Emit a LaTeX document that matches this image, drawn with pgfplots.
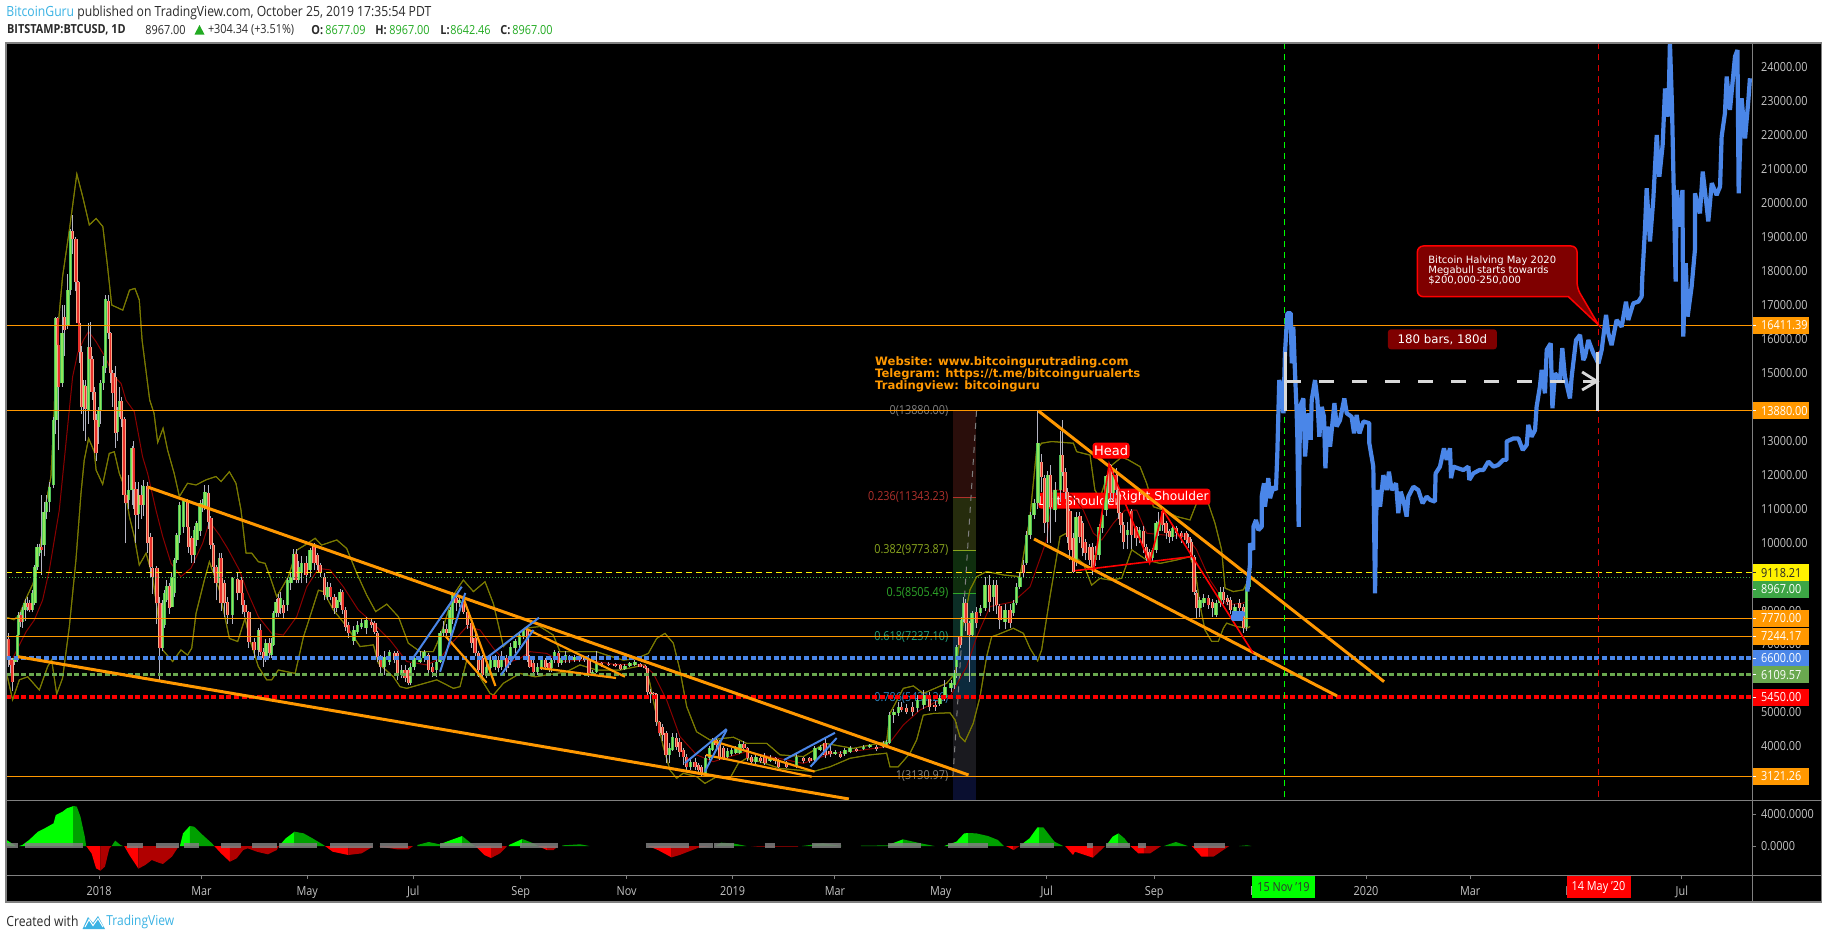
\documentclass[border=0pt]{standalone}
\usepackage{fontspec}
\usepackage{pgfplots}
\usepackage{pgfplotstable}
\pgfplotsset{compat=1.18}
\usepgfplotslibrary{fillbetween}
\setmainfont[FakeStretch=0.87]{Open Sans}
\newfontfamily\dv{DejaVu Sans}

\definecolor{orng}{HTML}{FF9800}
\definecolor{tickcol}{HTML}{C4C4C4}
\definecolor{framecol}{HTML}{808080}
\definecolor{tvblue}{HTML}{3BB3E4}
\definecolor{hdr}{HTML}{2B2B2B}
\definecolor{upg}{HTML}{22AB22}
\definecolor{lineblue}{HTML}{4A86E8}
\definecolor{linegreen}{HTML}{6AA84F}
\definecolor{bbfill}{HTML}{05051A}
\definecolor{bbline}{HTML}{7A7A00}
\definecolor{bbmid}{HTML}{8B0000}
\definecolor{upbody}{HTML}{4FC25A}
\definecolor{upcore}{HTML}{8FE85A}
\definecolor{dnbody}{HTML}{F4A98C}
\definecolor{dncore}{HTML}{E8302A}
\definecolor{wick}{HTML}{B4B4C2}
\definecolor{darkred}{HTML}{7F0000}
\definecolor{tagg}{HTML}{3DA545}
\definecolor{fiba}{HTML}{2A0E0B}
\definecolor{fibb}{HTML}{262C0D}
\definecolor{fibc}{HTML}{0F2E0E}
\definecolor{fibd}{HTML}{0C2E26}
\definecolor{fibe}{HTML}{0C2A3D}
\definecolor{fibf}{HTML}{1A1A1F}
\definecolor{fibg}{HTML}{0A0F30}
\definecolor{fibred}{HTML}{B0312C}
\definecolor{fibol}{HTML}{8AA61E}
\definecolor{fibgr}{HTML}{2FA82A}
\definecolor{fibte}{HTML}{1F9E7A}
\definecolor{fibbl}{HTML}{2E86C1}
\definecolor{grdark}{HTML}{00A000}
\definecolor{rddark}{HTML}{B00000}

% candles: d b t h l (days since 1 Jan 2018, body bottom, body top, high, low)
\pgfplotstableread{
d b t h l
-48.5 6500 6590 6650 6400
-47 6590 7280 7350 6500
-46.5 7280 7870 7950 7200
-44 7670 8020 8100 7500
-42.6 8020 8230 8350 7700
-38.2 8020 8510 8600 7950
-36.9 8210 9290 9350 8150
-35.7 9290 9880 9950 9200
-34.3 9690 9880 9950 9600
-31.7 9930 10910 11200 9600
-30.2 10910 11210 11400 10700
-28.6 11210 11650 11800 10900
-26.3 11700 13610 13700 11600
-24.8 13610 16610 16660 13200
-21.3 14690 16170 17000 14600
-17.9 16410 17440 17900 16300
-16.5 17440 19190 19250 17300
-8.9 14010 14650 14800 13300
-6.2 13910 15750 16460 13500
-0.2 13420 13910 14000 12900
1 13910 14690 14800 13500
2.5 14690 15190 15500 14500
3.6 15140 17170 17300 15000
10.7 13270 13910 14000 13000
11.9 13810 14180 14600 13700
17 11260 11550 12000 11000
19 11550 12780 12850 11100
22.6 10850 11410 11800 10400
25.7 11110 11670 11850 10800
36.3 6890 8170 8300 6800
37.6 7580 8510 8600 7500
39 8310 8710 8900 8250
42 8120 9000 9150 8100
43.6 8510 9490 9550 8400
44.9 9490 10230 10300 9400
46.3 10230 11110 11200 10000
48.6 10470 11260 11300 10300
55 9640 10370 10500 9400
56.4 10080 10570 10650 9900
58.2 10330 11160 11250 10200
59.7 11010 11160 11300 10900
61 11040 11480 11700 10950
69.3 8800 9540 9700 8300
77 7870 8950 9000 7600
92 6840 7430 7500 6550
96.2 6590 7040 7150 6500
99.5 6690 7040 7200 6600
100.5 6990 7920 8000 6950
102 7920 8260 8350 7800
104.7 8070 8360 8550 7900
108.5 8160 8900 8950 8000
110.5 8800 9000 9100 8600
112 9000 9670 9800 8900
115 8900 9290 9450 8800
116.8 9100 9390 9600 8800
121.6 9200 9790 9850 9000
131.6 8410 8700 8850 8300
137 8070 8310 8400 7950
138.9 8260 8560 8650 8150
146.9 7110 7430 7550 7000
148.9 7380 7580 7700 7300
151.4 7530 7640 7750 7450
153.9 7480 7720 7800 7300
164.2 6350 6620 6800 6100
167.3 6500 6790 6850 6400
174.4 6100 6250 6400 6000
179.6 5860 6350 6450 5800
181.5 6350 6590 6650 6250
185 6500 6590 6800 6450
187.3 6590 6790 6850 6500
194.6 6250 6500 6600 6050
196.5 6500 7330 7400 6450
198.4 7330 7450 7700 7250
202.3 7330 8020 8100 7250
203.8 7720 8490 8550 7600
207.5 8210 8310 8400 8100
223.4 6150 6350 6500 6000
225.7 6300 6540 6700 6150
228.2 6350 6590 6700 6250
232 6350 6550 6800 6250
237.2 6590 6940 7050 6400
239.7 6890 7110 7150 6750
242.2 6990 7280 7350 6900
244.5 7230 7430 7450 7150
252.5 6200 6330 6450 6100
255 6300 6530 6600 6250
260.8 6300 6550 6600 6200
262.5 6530 6790 6850 6450
266.6 6450 6590 6650 6400
268.7 6530 6690 6800 6450
273.7 6540 6620 6680 6500
284.2 6150 6200 6250 6100
286.7 6200 6470 6800 6150
303 6290 6370 6420 6260
305.9 6370 6450 6480 6340
308.8 6400 6500 6540 6380
328.6 3750 3940 4100 3500
330.5 3900 4290 4400 3850
340.9 3400 3550 3650 3300
349.5 3210 3650 3750 3130
351.6 3650 3940 4000 3600
353.6 3900 4190 4250 3850
362 3700 3850 3950 3650
364.5 3780 3900 3950 3720
367 3820 3940 4000 3780
369.3 3820 4070 4150 3780
378.5 3550 3700 3800 3480
386.6 3580 3650 3750 3530
402 3400 3700 3800 3350
412.5 3600 3940 4000 3550
415.4 3890 3990 4050 3850
424.1 3790 3840 3900 3750
429.8 3770 3890 3950 3720
432.7 3840 3940 4000 3800
440.4 3910 3990 4050 3880
444.2 3970 4040 4080 3950
451.9 3970 4090 4150 3950
453.8 4040 4140 4200 4000
455.4 4110 4920 5000 4080
458 4920 5020 5100 4700
460.5 4970 5170 5300 4900
471.5 5120 5370 5500 5000
475.3 5220 5510 5650 5100
484.5 5250 5420 5500 5200
487.4 5420 5760 5950 5350
490.9 5710 5860 5950 5600
492.8 5810 6150 6250 5700
494.1 6350 6940 7000 6000
497 7230 7720 7800 7100
498 7720 8210 8400 7650
503 7280 7920 8000 7250
508 7920 8070 8150 7850
510.5 8070 8750 9000 8000
515.3 8410 8750 8900 8000
522 7670 8020 8200 7450
526.8 7920 8210 8300 7850
528.7 8210 8700 8800 8150
530.6 8700 9000 9100 8650
534.5 9390 10230 10350 9350
536.4 10230 10810 10900 10100
538.7 10810 11160 11300 10700
541 11160 12930 13880 11000
546.4 10620 12000 12100 10000
550.8 10960 11550 11800 10600
554.1 11550 12580 13300 11200
562.9 9490 10770 10900 9300
574.2 9490 9640 9900 9300
576.2 9640 10470 10550 9500
578.3 10420 10820 10900 10300
580.2 10960 11950 12000 10800
584.4 11450 11990 12100 11300
592.5 10230 10370 10600 9800
599.4 10130 10370 10450 10000
607.1 9540 9790 9850 9450
609 9790 10570 10650 9700
610.7 10330 10620 10900 10200
618.6 10180 10420 10500 10050
634.3 8070 8310 8400 7800
636.6 8210 8360 8500 8100
643.6 7870 8220 8300 7800
645.9 8220 8560 8700 8100
654.5 7970 8120 8200 7750
661.2 7530 8700 8750 7400
662.8 8700 8950 8967 8640
}\upc
\pgfplotstableread{
d b t h l
-52 6590 7150 7350 6350
-51 6400 6590 6650 6060
-50 5910 6550 6600 5620
-45 7670 7870 7970 7520
-41.3 8120 8230 8400 7980
-39.8 8020 8210 8300 7950
-33 9790 9880 11400 9050
-23.8 15820 16610 16660 15000
-23.2 14600 15820 16000 12730
-19.8 16270 16640 17000 15500
-15.2 18940 19190 19650 18500
-13.3 17690 18940 19000 17400
-12.1 16460 17690 17700 16200
-11.4 15630 16460 16800 15300
-10.2 14010 15630 15800 13800
-7.9 13930 14630 14800 13000
-5.2 15410 15750 16500 15200
-4 14450 15410 15500 14200
-2.5 13610 14450 14600 13000
-1.7 12630 13610 13800 12400
5.5 16170 17130 17300 16000
6.7 14990 16170 16200 14700
8 14400 14990 15100 14000
9.4 13240 14890 15200 12800
13 13630 14180 14300 13400
14.4 11410 13630 13700 11200
15.5 11160 11410 11500 9980
20 11570 12780 13000 11000
21.3 10820 11570 11800 10000
24.2 11110 11410 11700 10700
28 9980 11670 11800 9700
29.9 9290 10160 10300 9000
30.9 9000 9250 9400 8500
33.4 8210 9250 9300 7600
35.1 6890 8210 8400 5960
40.5 8070 8710 8800 7900
51 10470 11260 11300 10200
51.6 9880 10470 10500 9700
53.5 9640 10130 10200 9400
63 10620 11450 11700 10400
64.5 9930 10720 10800 9800
65.9 9290 9930 10000 9100
67.4 8800 9290 9350 8300
70.3 8210 9540 9700 8000
72.2 8210 8800 8900 7800
74.1 7870 8260 8400 7600
79.7 8510 8920 9100 8300
81.8 8510 8900 9000 8400
82.8 8160 8510 8600 7900
84.1 7970 8160 8300 7800
86.3 7080 7970 8000 6900
89.3 6840 7080 7200 6600
93.2 6790 7430 7600 6700
94.7 6590 6790 6900 6350
98.2 6740 7040 7200 6600
103.3 7920 8360 8500 7800
106.2 7920 8160 8300 7750
113.5 8900 9670 9800 8800
119.3 9050 9390 9600 8800
123.9 9390 9900 9990 9200
125.8 9340 9640 9700 9200
127.4 9100 9340 9400 9000
129.9 8460 9000 9100 8300
133.5 8410 8700 8800 8300
135.4 8070 8410 8500 7900
140.4 8020 8560 8600 7900
142.1 7530 8020 8100 7400
143.9 7330 7580 7650 7200
157.1 7580 7670 7750 7500
159 7380 7640 7700 7300
160.4 6640 7330 7400 6500
162.3 6350 6640 6700 6100
170.2 6550 6760 6800 6450
171.9 6100 6740 6800 5950
176.3 6000 6250 6400 5900
178.2 5860 6250 6300 5800
189.8 6250 6690 6750 6150
192.3 6200 6350 6450 6050
200.3 7330 7450 7600 7200
205.7 8210 8360 8500 8000
209.9 7970 8260 8350 7900
212.2 7580 7970 8000 7450
214.7 7040 7620 7700 6900
216.7 6740 7180 7300 6650
218.6 6250 6740 6800 6050
220.9 6100 6590 6700 5950
230.1 6300 6540 6650 6200
235 6300 6590 6700 6200
246.8 6660 7430 7450 6500
248.3 6350 6660 6700 6300
250.2 6200 6450 6550 6100
257.3 6350 6530 6600 6250
259.3 6270 6450 6500 6200
264.6 6450 6760 6800 6350
271 6530 6660 6700 6450
277.1 6560 6620 6650 6500
280 6540 6620 6650 6500
282.3 6150 6560 6700 6050
289.6 6400 6450 6500 6350
293.4 6400 6430 6480 6370
297.3 6380 6420 6450 6350
300.5 6270 6400 6430 6240
311.7 6350 6430 6450 6330
314.6 6300 6370 6400 6280
316.1 5610 6300 6320 5500
317.8 5540 5610 5700 5270
319.7 5540 5560 5600 5400
321.3 4730 5540 5560 4600
322.8 4380 4730 4750 4300
324.7 4340 4580 4650 4150
326.7 3750 4380 4450 3500
332.8 3990 4240 4400 3900
334.7 3840 4140 4250 3700
336.6 3700 3900 3950 3450
338.6 3400 3700 3780 3250
343.4 3400 3550 3650 3300
345.3 3300 3450 3500 3220
347.2 3210 3400 3450 3130
355.5 4040 4190 4300 3950
357.4 3700 4090 4200 3600
359.7 3650 3940 4000 3600
371.6 3940 4070 4150 3850
373.5 3650 3940 3980 3570
376 3550 3680 3750 3450
381.2 3580 3650 3750 3500
383.7 3520 3700 3800 3450
389.5 3580 3650 3700 3480
391.4 3400 3580 3640 3350
396.2 3400 3500 3560 3350
405.8 3580 3650 3700 3500
409.6 3580 3650 3700 3520
418.3 3750 4110 4250 3650
421.2 3770 3870 4000 3700
427.3 3700 3790 3850 3650
436.5 3870 3910 3960 3830
448 3910 3990 4050 3870
462.5 5070 5170 5300 5000
465.3 5020 5120 5250 4950
468.8 5020 5170 5300 4900
478.4 5170 5460 5600 5050
481.7 5170 5220 5350 5050
496.1 6990 7230 7500 6900
499.5 7620 8210 8350 7400
501.3 7280 7620 7700 5900
505.7 7620 7970 8100 7500
513 8260 8750 9050 7950
517.2 8170 8750 8900 7900
519.1 7720 8130 8200 7450
524.9 7640 8020 8200 7500
532.6 9100 9340 9500 8950
543.1 11945 12390 12600 11500
544.7 10570 11900 12000 10300
548.3 11060 12000 12300 10000
555.2 12090 12580 13610 11950
556.6 11500 12090 12200 11300
557.9 10180 11500 11600 10000
559.4 9790 10920 11000 9500
561.4 9150 10130 10300 9120
565.2 10180 10790 10900 10000
566.7 9830 10570 10650 9600
568.1 9690 10030 10100 9500
570.6 9490 9880 9950 9350
572.3 9200 9880 10000 9050
582.5 11450 12290 12320 11200
586 11550 11990 12200 11400
587.3 10860 11550 11600 10700
588.8 10520 10860 10900 10300
590.2 10030 10520 10600 9800
595 10230 10920 11000 9800
597.5 10130 10470 10500 9900
601.7 9880 10350 10500 9700
603.6 9540 9880 9950 9450
605.2 9490 9740 9800 9400
612.6 10520 10920 11000 10350
614.8 10280 10570 10650 10100
616.7 10180 10330 10400 10000
620.9 10280 10420 10500 10100
623.8 10180 10280 10350 10000
626.3 10080 10280 10350 9950
628 9980 10180 10250 9850
629.5 9590 10030 10100 9500
630.9 8560 9590 9650 8450
632.4 8070 8510 8600 7750
639.1 8170 8360 8450 8050
641.6 8070 8260 8350 7800
647.8 8310 8560 8700 8200
650.1 8260 8360 8450 8150
652 8020 8310 8400 7900
657 8070 8230 8350 7950
659.3 7480 8120 8200 7350
}\dnc

% upper band
\pgfplotstableread{
d v
-53 7800
-49 7730
-46 7870
-42 8360
-38 8800
-36 9200
-34 9880
-30.6 11160
-27.7 11950
-25.8 13910
-24.8 15680
-21 17840
-17.1 19210
-15.8 19700
-12.8 20860
-9.4 20190
-5.6 19360
-1.7 19550
2.2 19310
4.7 18230
7.3 17000
13.7 16850
17.6 17440
20.7 17490
23.2 17150
24.8 15970
29.2 14200
31.7 13810
33.8 12950
36.9 13370
39.5 12730
43.3 12040
46.3 11360
51 11750
55.9 11700
61.6 11850
67.4 11950
70.3 11800
75.1 12090
78.9 11750
81.8 10960
84.7 9690
88 9690
91.8 9440
95.7 9390
98.5 9000
102.4 8410
109.1 9000
113.9 9780
118.7 9930
124.5 10130
128.3 9930
137 10080
142.7 9830
148.5 9100
154.2 8460
159.4 7970
165.8 8190
172.5 7820
178.2 7040
185 6790
192.6 6790
196.5 7230
204.2 8460
209.9 8900
215.7 8560
222.4 8850
227.2 8210
233 6940
238.7 7230
245.4 7480
254 7530
261.7 7280
265.6 6790
277.1 6790
286.7 6790
292.5 6690
302.1 6540
309.8 6590
316.5 6740
321.3 7180
326.1 7330
330.9 7040
334.7 6250
338.6 5170
344.3 4430
352 4190
365.5 4270
373.1 4090
384.7 4090
392.4 3750
405.8 3700
418.3 4090
434.6 3940
453.8 4140
455.7 4970
463.4 5710
469.2 5780
474.9 5560
488.4 5860
493.2 6150
496 7130
501.8 8610
505.7 9000
511.4 9150
521 9050
530.6 9000
536.4 10770
540.2 12730
543.1 12930
548.9 12980
561.4 12930
563.3 12680
571 12580
573.8 11550
576.7 11300
582.5 12240
589.2 12520
593 12440
599.8 12240
603.6 11750
607.5 11060
613.2 10960
620.9 10770
628.6 10670
633.4 11300
638.2 11300
643 10570
646.8 9790
648.8 8660
653.5 8560
659.3 8610
663.2 9000
}\bbu

% lower band
\pgfplotstableread{
d v
-53 6100
-49.8 5370
-45.9 5960
-41.1 6050
-34.4 5660
-29.6 6350
-27.3 6550
-24.4 5540
-21 6010
-17.1 7530
-13.3 9490
-10.4 11450
-8.5 12440
-6 13070
-2.7 12680
-1.7 12140
2.1 11720
5.9 12630
8.8 12680
11.7 12040
14.6 11650
17.5 10770
20.3 10180
23.2 9340
27.1 9690
30.9 9000
36.7 6840
42.4 6500
47.2 6840
51 6690
53.4 6890
55.9 7920
60.7 8900
63.6 9440
69.3 8610
75.1 7180
79.9 7090
84.1 7770
87 7130
91.8 6350
96.6 5960
99.5 5960
103.3 6250
113 6150
117.8 7230
120.6 7670
126.4 8600
129.3 8560
135 8020
142.7 7530
150.4 6940
158.1 6990
160.9 6450
169.6 6050
173.4 5760
177.3 5710
194.6 5960
204.2 5710
208 5760
211.9 6540
215.7 6350
225.3 5560
227.2 5510
233 5860
242.5 6150
251.2 6050
263.7 6150
269.4 6200
277.1 6400
286.7 6250
300.2 6250
309.8 6350
314.6 6400
317.4 5860
321.3 4880
325.1 3990
329 3300
332.8 3060
336.6 3210
344.3 3110
349.1 2910
355.9 3110
363.5 3060
368.3 3500
373.1 3650
380.8 3550
392.3 3350
411.6 3260
421.2 3400
432.7 3650
444.2 3750
453.8 3800
455.7 3400
460.5 3400
467.3 3800
471.1 4190
474.9 4920
480.7 4970
490.3 4990
493.2 4780
496 4290
498.9 4140
503.7 4680
507.6 5460
511.4 6640
514.3 7230
517.2 7280
526.8 7480
532.6 7330
536.4 6890
540.8 6520
543.1 6840
547.9 8410
553.7 10180
557.5 10280
562.3 9590
567.1 9390
571.9 8750
576.7 8950
582.5 8900
589.2 8950
595 9790
603.6 9490
611.3 9390
620.9 9490
628.6 9590
631.5 9200
634.3 8170
637.2 7430
641.1 7090
644.9 7090
647.8 7480
649.7 7630
655.5 7530
661.2 7480
663.2 7530
}\bbl

% middle band
\pgfplotstableread{
d v
-49.8 6590
-42 7380
-37.3 7720
-32.5 8310
-28.6 9200
-22.9 10960
-18.1 13420
-15.2 14890
-12.3 15580
-9 15970
-6 16220
-1.7 15920
4 15430
7.9 14940
12.7 14690
15.5 14200
20.3 13860
25.1 12530
28 12040
32.8 10960
36.7 10180
41.5 9390
47.2 9000
53 9250
59.7 9980
63.6 10620
69.3 10230
74.1 9830
80.8 9200
85.1 8600
91.8 7820
99.5 7330
106.2 7280
113.9 7820
119.7 8700
126.4 9240
133.1 9200
140.8 8700
149.4 8020
158.1 7620
167.7 7130
177.3 6500
188.8 6400
196.5 6590
203.2 7040
211.9 7530
219.5 7430
227.2 6890
234.9 6450
242.5 6590
248.3 6790
257.9 6740
265.6 6500
280.9 6550
296.3 6420
313.6 6400
319.4 6150
327 5370
334.7 4290
344.3 3750
353.9 3550
363.5 3700
373.1 3850
386.6 3700
405.8 3500
421.2 3780
436.5 3870
453.8 3990
463.4 4630
473 5070
482.6 5320
490.3 5460
499.9 6350
505.7 7230
513.4 8120
526.8 8260
536.4 8700
546 10080
549.8 11550
555.6 11550
560.4 11400
567.1 10960
572.9 10280
577.7 10080
584.4 10570
591.1 10960
597.9 10960
603.6 10280
613.2 10230
626.7 10180
632.4 9790
640.1 8900
649.7 8170
659.3 8220
662.2 8310
}\bbm

% projected path
\pgfplotstableread{
d v
661.6 8560
663.2 9390
663.2 9980
665.1 9790
665.1 10470
666.6 10670
668 10370
669.9 10470
669.9 11360
671.2 11750
671.8 11060
673.7 11900
674.7 11310
676.6 11650
678.1 11550
678.9 12630
680 14790
681.4 14500
682.4 13810
683.3 15580
684.7 16760
686.6 16760
687.2 15280
688.1 16360
689.1 14990
690 13910
690.4 13220
691.2 10470
692 14010
693.9 14250
694.9 12540
696.8 13810
698.1 13030
698.7 14200
700.6 14790
702 14200
703.1 13120
704.5 14000
705.8 13710
706.6 12190
707.7 13420
709.3 12830
711.8 14110
713.1 13420
715 13610
717.5 14250
718.9 13810
721.7 13710
723.1 13220
724.6 13760
726.2 13220
728.5 13570
731.9 13520
731.9 12930
734.2 12240
735.2 8510
735.8 10770
736.5 11550
738.1 11060
740 11990
741.9 11550
743.2 12090
744.8 11550
747.3 11750
748.6 10870
750 11500
751.5 11260
753.4 10770
754.4 11360
757.3 11650
760.1 11550
762.6 11160
765 11360
766.9 11260
769.7 11210
770.1 12040
772.6 12240
774.9 12780
776.5 12440
778.4 12780
779 11900
780.3 12240
783.2 12190
786.1 12140
789 12240
789.5 11850
791.8 12040
795.3 12140
797.6 12140
800.5 12390
803.4 12240
806.2 12290
809.1 12440
811 12440
811 12980
814.9 13070
817.8 13070
820.3 12730
822.6 12880
823.5 13470
825.4 13120
827.4 13320
828.3 14010
830.2 14600
831.2 15090
833.1 14400
834.1 15680
836.4 15870
837.4 13960
838.9 14990
841.8 14790
843.1 15730
844.6 14890
847.5 14250
848.5 14890
851 15970
853.3 16120
855.2 15380
856.2 15480
858.1 15970
861 15580
863.9 15280
865.8 15680
868.3 16710
869.6 16170
871.5 15820
874.4 16560
877.3 16360
879.8 17100
881.1 16560
884 17050
886.9 17100
888.8 17250
889.2 17840
890.7 19210
891.7 20440
893.6 18870
895.5 20090
897.5 22010
899 20780
900.9 21710
902.3 23380
904.2 22550
905.1 24750
906.3 22840
907.1 20880
908.4 17690
909 20390
910.9 19310
912.3 20390
912.8 16070
914.2 18230
915.3 16660
917.6 17540
919.5 18620
919.5 20290
922.4 19700
924 20930
926.3 19900
927.2 19460
929.2 20590
932 20240
934 20490
934.9 21960
936.8 22650
937.8 23730
939.7 22750
942.6 24320
944 24510
944.7 20290
946.4 23090
948.4 21910
950.3 23040
951.2 23680
}\proj

\newcommand{\tickfont}{\fontsize{6.25}{7}\selectfont}
\newcommand{\ptag}[4]{%
  \node[fill=#2,anchor=west,inner sep=0pt,minimum width=28.5pt,minimum height=8.5pt] (t) at (axis cs:952.4,#1) {};
  \node[text=#3,anchor=west,inner sep=0pt,font=\tickfont] at ([xshift=4.35pt]t.west) {#4};
  \draw[#3,line width=.5pt] (t.west) -- ([xshift=2pt]t.west);
}
\newcommand{\fiblab}[3]{\node[text=#2,anchor=east,inner sep=0pt,font=\fontsize{6.2}{7}\selectfont] at (axis cs:489.5,#1) {#3};}
\newcommand{\hlev}[2]{\addplot[#1] coordinates {(-53.6,#2) (952.4,#2)};}
\newcommand{\trend}[5]{\addplot[#1] coordinates {(#2,#3) (#4,#5)};}

\pgfplotsset{pane/.style={scale only axis,width=873pt,xmin=-53.6,xmax=952.4,
  axis line style={draw=none},tick align=outside,major tick length=2pt,
  tick style={draw=framecol,line width=.5pt},clip mode=individual,scaled ticks=false}}

\begin{document}
\begin{tikzpicture}[x=0.5pt,y=-0.5pt]
\fill[white] (0,0) rectangle (1828,939);
\fill[black] (6,43) rectangle (1821.5,902);

\node[anchor=west,inner sep=0pt,font=\fontsize{7}{8}\selectfont,text=hdr] at (6,13) {\textcolor{tvblue}{BitcoinGuru} published on TradingView.com, October 25, 2019 17:35:54 PDT};
\node[anchor=west,inner sep=0pt,font=\fontsize{6.25}{7}\selectfont\bfseries,text=hdr] at (6.7,30) {BITSTAMP:BTCUSD, 1D};
\node[anchor=west,inner sep=0pt,font=\tickfont,text=hdr] at (145,30) {8967.00};
\fill[upg] (194.5,34.5) -- (199.5,25) -- (204.5,34.5) -- cycle;
\node[anchor=west,inner sep=0pt,font=\tickfont,text=hdr] at (207.6,30) {+304.34 (+3.51\%)};
\node[anchor=west,inner sep=0pt,font=\fontsize{6.25}{7}\selectfont\bfseries,text=hdr] at (311,30) {O:};
\node[anchor=west,inner sep=0pt,font=\tickfont,text=upg] at (325,30) {8677.09};
\node[anchor=west,inner sep=0pt,font=\fontsize{6.25}{7}\selectfont\bfseries,text=hdr] at (375,30) {H:};
\node[anchor=west,inner sep=0pt,font=\tickfont,text=upg] at (389,30) {8967.00};
\node[anchor=west,inner sep=0pt,font=\fontsize{6.25}{7}\selectfont\bfseries,text=hdr] at (440,30) {L:};
\node[anchor=west,inner sep=0pt,font=\tickfont,text=upg] at (450,30) {8642.46};
\node[anchor=west,inner sep=0pt,font=\fontsize{6.25}{7}\selectfont\bfseries,text=hdr] at (500,30) {C:};
\node[anchor=west,inner sep=0pt,font=\tickfont,text=upg] at (512,30) {8967.00};

\begin{axis}[pane,at={(3pt,-400.35pt)},anchor=south west,height=378.85pt,ymin=2400,ymax=24718,
  xtick=\empty,ytick={4000,5000,7000,8000,10000,11000,12000,13000,15000,16000,17000,18000,19000,20000,21000,22000,23000,24000},ytick pos=right,yticklabel pos=right,
  yticklabel style={font=\tickfont,text=tickcol,inner sep=0pt,xshift=2.35pt,
    /pgf/number format/fixed,/pgf/number format/fixed zerofill,/pgf/number format/precision=2,
    /pgf/number format/1000 sep={},/pgf/number format/assume math mode=true}]

% fibonacci column
\addplot[fill=fiba,draw=none] coordinates {(491.8,13880)(505.5,13880)(505.5,11343.23)(491.8,11343.23)};
\addplot[fill=fibb,draw=none] coordinates {(491.8,11343.23)(505.5,11343.23)(505.5,9773.87)(491.8,9773.87)};
\addplot[fill=fibc,draw=none] coordinates {(491.8,9773.87)(505.5,9773.87)(505.5,8505.49)(491.8,8505.49)};
\addplot[fill=fibd,draw=none] coordinates {(491.8,8505.49)(505.5,8505.49)(505.5,7237.10)(491.8,7237.10)};
\addplot[fill=fibe,draw=none] coordinates {(491.8,7237.10)(505.5,7237.10)(505.5,5431.26)(491.8,5431.26)};
\addplot[fill=fibf,draw=none] coordinates {(491.8,5431.26)(505.5,5431.26)(505.5,3130.97)(491.8,3130.97)};
\addplot[fill=fibg,draw=none] coordinates {(491.8,3130.97)(505.5,3130.97)(505.5,2400)(491.8,2400)};
\addplot[fibred,line width=.5pt] coordinates {(491.8,11343.23)(505.5,11343.23)};
\addplot[fibol,line width=.5pt] coordinates {(491.8,9773.87)(505.5,9773.87)};
\addplot[fibgr,line width=.5pt] coordinates {(491.8,8505.49)(505.5,8505.49)};
\addplot[gray,line width=.5pt,dash pattern=on 3pt off 3pt] coordinates {(505.6,13880)(492,3131)};
\fiblab{13880}{gray}{0(13880.00)}
\fiblab{11343.23}{fibred}{0.236(11343.23)}
\fiblab{9773.87}{fibol}{0.382(9773.87)}
\fiblab{8505.49}{fibgr}{0.5(8505.49)}
\fiblab{7237.10}{fibte}{0.618(7237.10)}
\fiblab{5431.26}{fibbl}{0.786(5431.26)}
\fiblab{3130.97}{gray}{1(3130.97)}

% bollinger bands
\addplot[name path=upb,bbline,line width=.5pt] table[x=d,y=v] {\bbu};
\addplot[name path=lob,bbline,line width=.5pt] table[x=d,y=v] {\bbl};
\addplot[bbfill,draw=none] fill between[of=upb and lob];
\addplot[bbline,line width=.5pt] table[x=d,y=v] {\bbu};
\addplot[bbline,line width=.5pt] table[x=d,y=v] {\bbl};

\node[fill=red,rounded corners=1.5pt,text=white,inner sep=0pt,minimum width=39.4pt,minimum height=8pt,font=\dv\fontsize{6.1}{7}\selectfont] at (axis cs:564.6,11237) {Left Shoulder};
\node[fill=red,rounded corners=1.5pt,text=white,inner sep=0pt,minimum width=47pt,minimum height=8pt,font=\dv\fontsize{6.1}{7}\selectfont] at (axis cs:613.3,11355) {Right Shoulder};

\addplot[bbmid,line width=.5pt] table[x=d,y=v] {\bbm};

% candles
\addplot[draw=none,error bars/.cd,y dir=plus,y explicit,error mark=none,error bar style={draw=wick,line width=.5pt}] table[x=d,y=l,y error plus expr=\thisrow{h}-\thisrow{l}] {\upc};
\addplot[draw=none,error bars/.cd,y dir=plus,y explicit,error mark=none,error bar style={draw=wick,line width=.5pt}] table[x=d,y=l,y error plus expr=\thisrow{h}-\thisrow{l}] {\dnc};
\addplot[draw=none,error bars/.cd,y dir=plus,y explicit,error mark=none,error bar style={draw=upbody,line width=1.7pt}] table[x=d,y=b,y error plus expr=\thisrow{t}-\thisrow{b}] {\upc};
\addplot[draw=none,error bars/.cd,y dir=plus,y explicit,error mark=none,error bar style={draw=upcore,line width=.7pt}] table[x=d,y=b,y error plus expr=\thisrow{t}-\thisrow{b}] {\upc};
\addplot[draw=none,error bars/.cd,y dir=plus,y explicit,error mark=none,error bar style={draw=dnbody,line width=1.7pt}] table[x=d,y=b,y error plus expr=\thisrow{t}-\thisrow{b}] {\dnc};
\addplot[draw=none,error bars/.cd,y dir=plus,y explicit,error mark=none,error bar style={draw=dncore,line width=.8pt}] table[x=d,y=b,y error plus expr=\thisrow{t}-\thisrow{b}] {\dnc};

% horizontal levels
\hlev{orng,line width=.5pt}{16411.39}
\hlev{orng,line width=.5pt}{13880}
\hlev{orng,line width=.5pt}{7770}
\hlev{orng,line width=.5pt}{7244.17}
\hlev{orng,line width=.5pt}{3121.26}
\hlev{yellow,line width=.55pt,dash pattern=on 3pt off 2pt}{9118.21}
\hlev{tagg,line width=.4pt,dash pattern=on .6pt off .9pt}{8967}
\hlev{lineblue,line width=1.7pt,dash pattern=on 2.5pt off 1.3pt}{6600}
\hlev{linegreen,line width=1.7pt,dash pattern=on 2.5pt off 1.3pt}{6109.57}
\hlev{red,line width=1.7pt,dash pattern=on 2.5pt off 1.3pt}{5450}

% vertical date markers
\addplot[green,line width=.5pt,dash pattern=on 3pt off 2.5pt] coordinates {(683,2500)(683,24718)};
\addplot[red!85!black,line width=.5pt,dash pattern=on 3pt off 2.5pt] coordinates {(864,2500)(864,24718)};

% trend lines
\trend{orng,line width=1.5pt}{28}{11640}{501}{3158}
\trend{orng,line width=1.5pt}{-46.7}{6642}{432}{2451}
\trend{orng,line width=1.5pt}{541.3}{13879}{740.4}{5906}
\trend{orng,line width=1.5pt}{538.7}{10109}{713.3}{5485}
\trend{orng,line width=1.1pt}{199.6}{7252}{223.3}{5876}
\trend{orng,line width=1.1pt}{210.3}{8312}{228.4}{5779}
\trend{orng,line width=1.1pt}{245.2}{7488}{303}{6053}
\trend{orng,line width=1.1pt}{254}{6310}{297.9}{6015}
\trend{orng,line width=1.1pt}{353.2}{4168}{412.3}{3256}
\trend{orng,line width=1.1pt}{349.7}{3747}{410.6}{3107}
\trend{lineblue,line width=1pt}{181}{6605}{209}{8704}
\trend{lineblue,line width=1pt}{196.5}{6200}{211}{8519}
\trend{lineblue,line width=1pt}{223.3}{6605}{253.5}{7791}
\trend{lineblue,line width=1pt}{231.6}{6103}{250.3}{7428}
\trend{lineblue,line width=1pt}{337.6}{3510}{361.6}{4513}
\trend{lineblue,line width=1pt}{349}{3255}{361.6}{4484}
\trend{lineblue,line width=1pt}{394.7}{3600}{424}{4400}
\trend{lineblue,line width=1pt}{409.9}{3402}{425}{4246}
\addplot[red,line width=.8pt] coordinates {(562.3,9175)(629.2,9588)};
\addplot[red,line width=.8pt] coordinates {(573,9175)(582,12318)(605.3,9402)(613,10963)(665,6745)};

% projected path
\addplot[lineblue,line width=1.75pt,line join=bevel] coordinates {(653,7950)(659,7950)(659,7850)(653,7850)(653,7750)(659,7750)};
\addplot[lineblue,line width=2.1pt,line join=bevel] table[x=d,y=v] {\proj};

% 180 bar ruler
\addplot[white!85!black,line width=1.3pt] coordinates {(683.7,13880)(683.7,15625)};
\addplot[white!85!black,line width=1.3pt] coordinates {(863.3,13880)(863.3,15625)};
\addplot[white!85!black,line width=1.6pt,dash pattern=on 7.25pt off 9.25pt] coordinates {(684,14754)(863,14754)};
\addplot[white!85!black,line width=1.4pt] coordinates {(854.5,15028)(863,14754)(854.5,14498)};
\end{axis}

% oscillator pane
\begin{axis}[pane,at={(3pt,-437.5pt)},anchor=south west,height=37.15pt,ymin=-3625,ymax=5662,
  ytick={0,4000},ytick pos=right,yticklabel pos=right,
  yticklabel style={font=\tickfont,text=tickcol,inner sep=0pt,xshift=2.35pt,
    /pgf/number format/fixed,/pgf/number format/fixed zerofill,/pgf/number format/precision=4,
    /pgf/number format/1000 sep={},/pgf/number format/assume math mode=true},
  xtick={0,59,120,181,243,304,365,424,485,546,608,669,730,790,851,912},
  xticklabels={2018,Mar,May,Jul,Sep,Nov,2019,Mar,May,Jul,Sep,Nov,2020,Mar,May,Jul},
  xtick pos=bottom,xticklabel pos=bottom,
  xticklabel style={font=\tickfont,text=tickcol,inner sep=0pt,yshift=-3.5pt}]
\addplot[fill=green,draw=none] coordinates {(-53.2,750)(-48,0)(-53.2,0)};
\addplot[fill=green,draw=none] coordinates {(-46,0)(-44.2,125)(-40.3,750)(-35.2,1790)(-31.3,2210)(-26.2,2830)(-24.9,3880)(-21,4290)(-18.5,4710)(-14.6,5000)(-14.6,0)};
\addplot[fill=grdark,draw=none] coordinates {(-14.6,0)(-14.6,5000)(-12.8,4920)(-10.7,3670)(-8.2,1170)(-7.4,0)};
\addplot[fill=red,draw=none] coordinates {(-7.4,0)(-4.3,-920)(-1.7,-2790)(0.8,-3080)(0.8,0)};
\addplot[fill=rddark,draw=none] coordinates {(0.8,0)(0.8,-3080)(3.4,-2580)(6,-290)(7.3,0)};
\addplot[fill=grdark,draw=none] coordinates {(7.3,0)(9.3,670)(12.4,125)(13.7,0)};
\addplot[fill=red,draw=none] coordinates {(14.5,0)(17.5,-1125)(22.7,-2830)(22.7,0)};
\addplot[fill=rddark,draw=none] coordinates {(22.7,0)(22.7,-2830)(26.6,-2375)(30.4,-1750)(34.3,-2080)(36.8,-2250)(42,-1330)(45.8,-80)(45.8,0)};
\addplot[fill=green,draw=none] coordinates {(46.6,0)(48.4,1580)(52.3,2500)(52.3,0)};
\addplot[fill=grdark,draw=none] coordinates {(52.3,0)(52.3,2500)(54.8,2420)(58.7,1580)(65.1,330)(66.4,0)};
\addplot[fill=red,draw=none] coordinates {(66.4,0)(70.3,-920)(75.4,-1960)(75.4,0)};
\addplot[fill=rddark,draw=none] coordinates {(75.4,0)(75.4,-1960)(79.3,-1540)(83.1,-500)(85.7,-290)(90.9,-710)(97.3,-1040)(102.4,-500)(103.7,0)};
\addplot[fill=green,draw=none] coordinates {(103.7,0)(107.6,960)(112.7,1790)(112.7,0)};
\addplot[fill=grdark,draw=none] coordinates {(112.7,0)(112.7,1790)(117.9,1580)(123,960)(129.4,125)(130.2,0)};
\addplot[fill=red,draw=none] coordinates {(130.2,0)(134.6,-710)(143.6,-1125)(143.6,0)};
\addplot[fill=rddark,draw=none] coordinates {(143.6,0)(143.6,-1125)(151.3,-920)(157.7,-80)(157.7,0)};
\addplot[fill=rddark,draw=none] coordinates {(161.6,0)(161.6,-80)(171.9,-420)(178.3,-420)(180.9,0)};
\addplot[fill=grdark,draw=none] coordinates {(183.4,0)(183.4,125)(189.9,500)(196.3,210)(196.3,0)};
\addplot[fill=green,draw=none] coordinates {(196.3,0)(196.3,210)(200.2,540)(209.2,1250)(209.2,0)};
\addplot[fill=grdark,draw=none] coordinates {(209.2,0)(209.2,1250)(215.6,125)(216.9,0)};
\addplot[fill=red,draw=none] coordinates {(216.9,0)(222,-1125)(225.9,-1500)(225.9,0)};
\addplot[fill=rddark,draw=none] coordinates {(225.9,0)(225.9,-1500)(231,-920)(234.9,-80)(234.9,0)};
\addplot[fill=green,draw=none] coordinates {(236.2,0)(236.2,125)(243.9,875)(243.9,0)};
\addplot[fill=grdark,draw=none] coordinates {(243.9,0)(243.9,875)(250.3,330)(252.9,0)};
\addplot[fill=red,draw=none] coordinates {(252.9,0)(258,-500)(258,0)};
\addplot[fill=rddark,draw=none] coordinates {(258,0)(258,-500)(261.9,-500)(264.5,0)};
\addplot[fill=grdark,draw=none] coordinates {(267,0)(267,80)(277.3,210)(282.5,0)};
\addplot[fill=red,draw=none] coordinates {(316.3,0)(322,-500)(329.9,-1420)(329.9,0)};
\addplot[fill=rddark,draw=none] coordinates {(329.9,0)(329.9,-1420)(334.5,-1125)(345.9,-170)(353.9,0)};
\addplot[fill=grdark,draw=none] coordinates {(355,0)(358.4,416)(366,300)(373,0)};
\addplot[fill=rddark,draw=none] coordinates {(375.5,0)(380,-80)(402.8,-80)(402.8,0)};
\addplot[fill=grdark,draw=none] coordinates {(405,0)(417,333)(428,0)};
\addplot[fill=grdark,draw=none] coordinates {(439,0)(439,40)(454.6,80)(454.6,0)};
\addplot[fill=green,draw=none] coordinates {(454.6,0)(454.6,125)(463.2,830)(463.2,0)};
\addplot[fill=grdark,draw=none] coordinates {(463.2,0)(463.2,830)(473.5,330)(481.4,0)};
\addplot[fill=green,draw=none] coordinates {(487,0)(494,540)(498.5,1580)(501,1620)(501,0)};
\addplot[fill=grdark,draw=none] coordinates {(501,0)(501,1620)(505.4,1580)(512.2,1250)(517.9,750)(521.3,0)};
\addplot[fill=red,draw=none] coordinates {(522.5,0)(527,-500)(527,0)};
\addplot[fill=rddark,draw=none] coordinates {(527,0)(527,-500)(530.4,0)};
\addplot[fill=green,draw=none] coordinates {(530.4,0)(536.1,960)(540.7,2330)(542,2330)(542,0)};
\addplot[fill=grdark,draw=none] coordinates {(542,0)(542,2330)(544.1,2330)(550.5,540)(555.5,0)};
\addplot[fill=red,draw=none] coordinates {(556.6,0)(561.2,-1125)(562.3,-710)(572.6,-1460)(572.6,0)};
\addplot[fill=rddark,draw=none] coordinates {(572.6,0)(572.6,-1460)(579.4,-80)(579.4,0)};
\addplot[fill=green,draw=none] coordinates {(580.1,0)(584,1170)(587.4,1580)(587.4,0)};
\addplot[fill=grdark,draw=none] coordinates {(587.4,0)(587.4,1580)(590.8,960)(594.2,0)};
\addplot[fill=red,draw=none] coordinates {(594.2,0)(598.8,-920)(602,-920)(602,0)};
\addplot[fill=rddark,draw=none] coordinates {(602,0)(602,-920)(605.6,-920)(612,0)};
\addplot[fill=grdark,draw=none] coordinates {(613.6,0)(620.4,500)(627.3,0)};
\addplot[fill=red,draw=none] coordinates {(629.6,0)(635.2,-1330)(639,-1330)(639,0)};
\addplot[fill=rddark,draw=none] coordinates {(639,0)(639,-1330)(642.1,-1330)(651.2,0)};
\addplot[fill=grdark,draw=none] coordinates {(656.9,0)(660,60)(661.5,80)(664,0)};
% gray signal marks on the zero line
\addplot[gray,line width=2.5pt,opacity=.85,unbounded coords=jump] coordinates {
(-53.2,60)(-46.8,60)(0,nan)(-42.9,60)(-9.5,60)(0,nan)(16.3,60)(25.3,60)(0,nan)
(33,60)(45.8,60)(0,nan)(48.9,60)(57.4,60)(0,nan)(70.3,60)(81.8,60)(0,nan)
(88.3,60)(102.4,60)(0,nan)(103.7,60)(125.6,60)(0,nan)(133.3,60)(157.7,60)(0,nan)
(161.6,60)(178.3,60)(0,nan)(196.3,60)(232.3,60)(0,nan)(242.6,60)(264.5,60)(0,nan)
(315,60)(340.2,60)(0,nan)(345.4,60)(353.9,60)(0,nan)(354.5,60)(365.9,60)(0,nan)
(383.5,60)(389.2,60)(0,nan)(410.8,60)(427.4,60)(0,nan)(454.6,60)(473.5,60)(0,nan)
(489.4,60)(512.2,60)(0,nan)(530.4,60)(550.5,60)(0,nan)(569.2,60)(572.6,60)(0,nan)
(580.1,60)(594.2,60)(0,nan)(598.8,60)(603.3,60)(0,nan)(630.7,60)(648.5,60)};
\end{axis}

% overlay for price tags and annotations
\begin{axis}[pane,at={(3pt,-400.35pt)},anchor=south west,height=378.85pt,ymin=2400,ymax=24718,hide axis,clip=false]
\addplot[draw=none] coordinates {(0,3000)(1,3000)};
\node[fill=red,rounded corners=1.5pt,text=white,inner sep=0pt,minimum width=18.5pt,minimum height=8pt,font=\dv\fontsize{6.5}{7}\selectfont] at (axis cs:583.1,12710) {Head};
\node[fill=darkred,rounded corners=1.5pt,text=white,inner sep=0pt,minimum width=54.5pt,minimum height=10pt,font=\dv\fontsize{5.9}{7}\selectfont] at (axis cs:774,15990) {180 bars, 180d};
\draw[draw=red,fill=darkred,line width=.75pt,rounded corners=3pt]
  (axis cs:759.6,18739) -- (axis cs:851.6,18739) -- (axis cs:851.6,17494) [sharp corners] -- (axis cs:864,16411) -- (axis cs:846.6,17246) [rounded corners=3pt] -- (axis cs:759.6,17246) -- cycle;
\node[anchor=west,text=white,inner sep=0pt,font=\dv\fontsize{5}{5}\selectfont] at (axis cs:765.7,18300) {Bitcoin Halving May 2020};
\node[anchor=west,text=white,inner sep=0pt,font=\dv\fontsize{5}{5}\selectfont] at (axis cs:765.7,18005) {Megabull starts towards};
\node[anchor=west,text=white,inner sep=0pt,font=\dv\fontsize{5}{5}\selectfont] at (axis cs:765.7,17710) {\$200,000-250,000};
\node[anchor=west,text=orng,inner sep=0pt,font=\dv\bfseries\fontsize{5.8}{6}\selectfont] at (axis cs:447,15317) {Website: www.bitcoingurutrading.com};
\node[anchor=west,text=orng,inner sep=0pt,font=\dv\bfseries\fontsize{5.8}{6}\selectfont] at (axis cs:447,14964) {Telegram: https://t.me/bitcoingurualerts};
\node[anchor=west,text=orng,inner sep=0pt,font=\dv\bfseries\fontsize{5.8}{6}\selectfont] at (axis cs:447,14610) {Tradingview: bitcoinguru};
\ptag{16411.39}{orng}{white}{16411.39}
\ptag{13880}{orng}{white}{13880.00}
\ptag{9118.21}{yellow}{black!85}{9118.21}
\ptag{8625}{tagg}{white}{8967.00}
\ptag{7770}{orng}{white}{7770.00}
\ptag{7244.17}{orng}{white}{7244.17}
\ptag{6600}{lineblue}{white}{6600.00}
\ptag{6109.57}{linegreen}{white}{6109.57}
\ptag{5450}{red}{white}{5450.00}
\ptag{3121.26}{orng}{white}{3121.26}
\end{axis}

\node[fill=green,text=black!80,inner sep=0pt,minimum width=31.5pt,minimum height=10.8pt,font=\tickfont] at (1283.5,887) {15 Nov '19};
\node[fill=red,text=white,inner sep=0pt,minimum width=32pt,minimum height=10.8pt,font=\tickfont] at (1598.5,887) {14 May '20};

% frame and pane separators
\draw[framecol,line width=.75pt] (6,43) rectangle (1821.5,902);
\draw[framecol,line width=.5pt] (6,800.7) -- (1821.5,800.7) (6,875) -- (1821.5,875) (1752,43) -- (1752,902);

% footer
\node[anchor=west,inner sep=0pt,font=\fontsize{7}{8}\selectfont,text=hdr] at (6,921.5) {Created with};
\fill[tvblue] (82.6,929) -- (88,917) -- (93,923) -- (98,916) -- (105,929) -- cycle;
\draw[white,line width=.5pt] (85,927) -- (89,919.5) -- (93,925.5) -- (98,918.5) -- (103,927);
\node[anchor=west,inner sep=0pt,font=\fontsize{6.9}{8}\selectfont,text=tvblue] at (106,921.5) {TradingView};
\end{tikzpicture}
\end{document}
